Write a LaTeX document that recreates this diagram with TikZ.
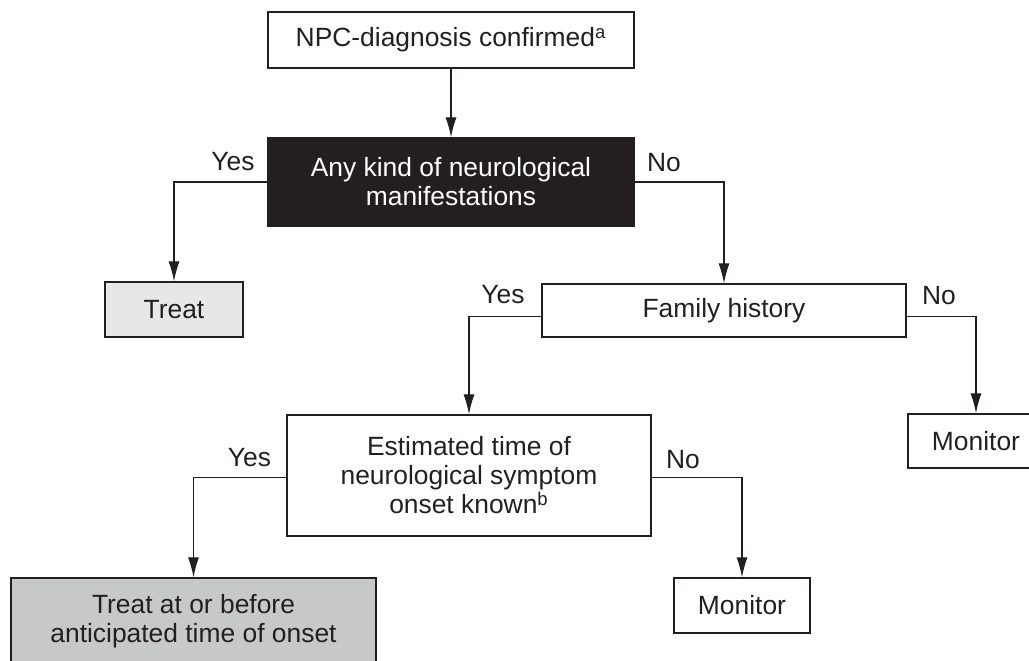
\documentclass[tikz,border=0pt]{standalone}
\usepackage{fontspec}
\setmainfont{Liberation Sans}
\usepackage{xcolor}
\definecolor{InkGrey}{RGB}{35,31,32}
\definecolor{PaleGrey}{RGB}{230,231,232}
\definecolor{MidGrey}{RGB}{199,200,202}
\usepackage{tikz}
\usetikzlibrary{arrows.meta}
\tikzset{%
  chart box/.style={draw=InkGrey, line width=0.7pt, inner sep=0pt, align=center,
    text=InkGrey, font=\fontsize{13.2}{14.5}\selectfont},
  answer/.style={anchor=base, inner sep=0pt, text=InkGrey,
    font=\fontsize{13.2}{14.5}\selectfont},
  flow line/.style={draw=InkGrey, line width=0.6pt,
    -{Latex[length=10pt,width=5.5pt]}}
}

\begin{document}
\begin{tikzpicture}[x=0.5pt,y=-0.5pt]
    \clip (0,0) rectangle (1029,660); % page of the figure
    % boxes
    \node[chart box, minimum width=183pt, minimum height=28pt] (diag) at (451,40)
      {NPC-diagnosis confirmed\textsuperscript{a}};
    \node[chart box, fill=InkGrey, text=white, minimum width=183pt, minimum height=44pt]
      (neuro) at (451,182) {Any kind of neurological\\manifestations};
    \node[chart box, fill=PaleGrey, minimum width=69pt, minimum height=27.5pt]
      (treat) at (174,309.5) {Treat};
    \node[chart box, minimum width=182pt, minimum height=26.5pt] (family) at (724,310.5)
      {Family history};
    \node[chart box, minimum width=68pt, minimum height=27pt] (monA) at (976,441)
      {Monitor};
    \node[chart box, minimum width=182pt, minimum height=60.5pt] (est) at (469,475.5)
      {Estimated time of\\neurological symptom\\onset known\textsuperscript{b}};
    \node[chart box, fill=MidGrey, minimum width=182.5pt, minimum height=43pt]
      (early) at (193.5,621) {Treat at or before\\anticipated time of onset};
    \node[chart box, minimum width=68pt, minimum height=27.5pt] (monB) at (742,605.5)
      {Monitor};
    % connectors
    \draw[flow line] (diag) -- (neuro);
    \draw[flow line] (neuro.west) -| (treat.north);
    \draw[flow line] (neuro.east) -| (family.north);
    \draw[flow line] ([yshift=-3pt]family.west) -| (est.north);
    \draw[flow line] ([yshift=-3pt]family.east) -| (monA.north);
    \draw[flow line] ([yshift=-1pt]est.west) -| (early.north);
    \draw[flow line] ([yshift=-1pt]est.east) -| (monB.north);
    % answers
    \node[answer] (yesA) at (233,170) {Yes};
    \node[answer] (noA) at (664,171) {No};
    \node[answer] (yesB) at (503,303) {Yes};
    \node[answer] (noB) at (939,304) {No};
    \node[answer] (yesC) at (249.5,466) {Yes};
    \node[answer] (noC) at (683,468) {No};
\end{tikzpicture}
\end{document}
